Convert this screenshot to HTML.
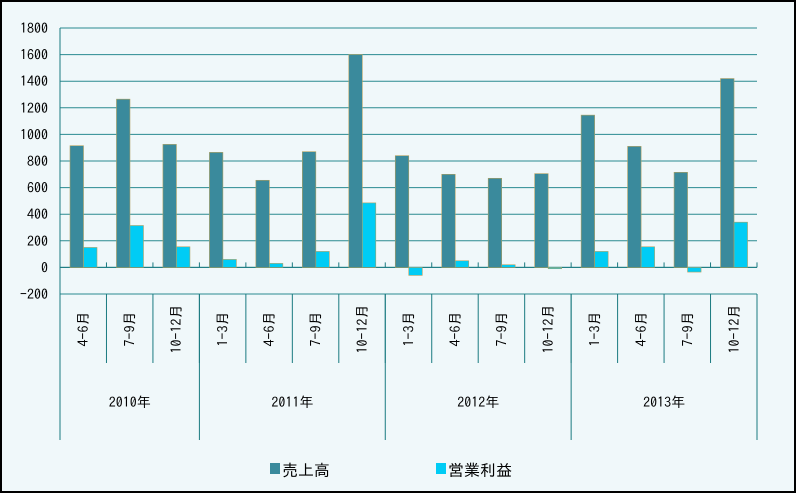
<!DOCTYPE html>
<html><head><meta charset="utf-8"><style>
body{margin:0;background:#fff}
svg{display:block;font-family:"IPAGothic","Liberation Sans","Noto Sans CJK JP",sans-serif}
</style></head><body>
<svg id="c" width="796" height="495"></svg>
<script>
const categories=["4-6月","7-9月","10-12月","1-3月","4-6月","7-9月","10-12月","1-3月","4-6月","7-9月","10-12月","1-3月","4-6月","7-9月","10-12月"];
const years=["2010年","2011年","2012年","2013年"];
const yearCounts=[3,4,4,4];
const sales=[915,1265,925,865,655,870,1600,840,700,670,705,1145,910,715,1420];
const profit=[150,315,155,60,30,120,485,-60,50,20,-10,120,155,-35,340];
const ticks=[-200,0,200,400,600,800,1000,1200,1400,1600,1800];
const svg=document.getElementById('c');
const NS='http://www.w3.org/2000/svg';
const X0=60,X1=757,Y0=28,Y1=294,VMIN=-200,VMAX=1800;
const y=v=>Y1-(v-VMIN)/(VMAX-VMIN)*(Y1-Y0);
const cw=(X1-X0)/categories.length;
const x=i=>X0+i*cw;
function mk(t,a,p){const e=document.createElementNS(NS,t);for(const k in a)e.setAttribute(k,a[k]);(p||svg).appendChild(e);return e;}
let bg=mk('rect',{x:1,y:1,width:794,height:491,fill:'#f0f8fa',stroke:'#000','stroke-width':2});


ticks.forEach(t=>{
 let g=mk('line',{x1:X0,x2:X1,y1:y(t),y2:y(t),stroke:'#2a8a90','stroke-width':1});
 
 
 let l=mk('text',{x:X0-12,y:y(t)+5,'text-anchor':'end','font-size':14,fill:'#000'});
 l.textContent=t<0?'−'+(-t):t;
 
 
});
let ax=mk('line',{x1:X0,x2:X0,y1:Y0,y2:440,stroke:'#1a7a80'});


let zr=mk('line',{x1:X0,x2:X1,y1:y(0),y2:y(0),stroke:'#1a7a80'});


const bw=13.5;
categories.forEach((c,i)=>{
 let tk=mk('line',{x1:x(i+1),x2:x(i+1),y1:y(0),y2:y(0)-5,stroke:'#1a7a80'});
 
 
 let s=mk('rect',{x:x(i)+10,y:Math.min(y(sales[i]),y(0)),width:bw,height:Math.abs(y(sales[i])-y(0)),fill:'#3a8a9c',stroke:'#b0a060','stroke-width':0.6});
 
 
 let p=mk('rect',{x:x(i)+10+bw,y:Math.min(y(profit[i]),y(0)),width:bw,height:Math.abs(y(profit[i])-y(0)),fill:'#00ccf5',stroke:'#b0a060','stroke-width':0.6});
 
 
 let d=mk('line',{x1:x(i+1),x2:x(i+1),y1:Y1,y2:363,stroke:'#1a7a80'});
 
 
 const cx=x(i)+cw/2+5,cy=329;
 let t=mk('text',{x:cx,y:cy,'text-anchor':'middle','font-size':14,transform:`rotate(-90 ${cx} ${cy})`});
 t.textContent=c.replace('-','−');
 
 
});
let idx=0;
years.forEach((yr,j)=>{
 const s=idx,e=idx+yearCounts[j];idx=e;
 let d=mk('line',{x1:x(e),x2:x(e),y1:Y1,y2:440,stroke:'#1a7a80'});
 
 
 let t=mk('text',{x:(x(s)+x(e))/2,y:407,'text-anchor':'middle','font-size':14});
 t.textContent=yr;
 
 
});
const leg=[["売上高","#3a8a9c",270],["営業利益","#00ccf5",436]];
leg.forEach(l=>{
 let r=mk('rect',{x:l[2],y:463,width:10,height:11,fill:l[1]});
 
 
 let t=mk('text',{x:l[2]+12,y:476,'font-size':16});
 t.textContent=l[0];
 
 
});
</script>
</body></html>
